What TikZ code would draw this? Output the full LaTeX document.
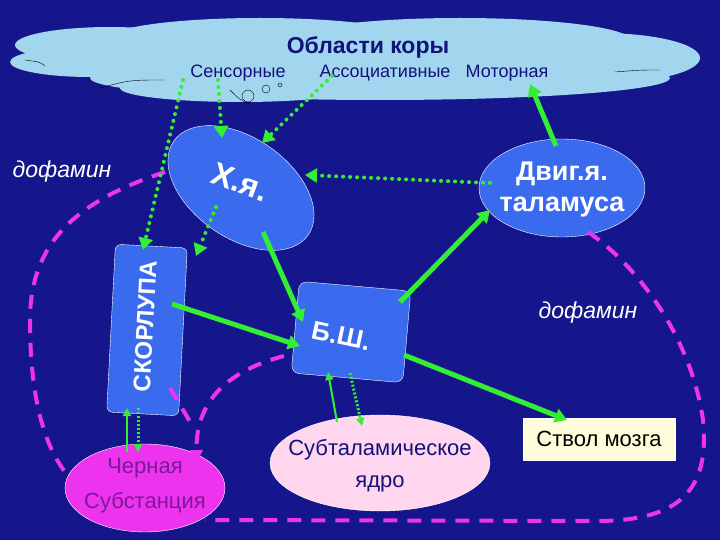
\documentclass[tikz,border=0pt]{standalone}
\usepackage{fontspec}
\setmainfont{Liberation Sans}
\usetikzlibrary{shapes.geometric,arrows.meta}
\definecolor{bg}{HTML}{15158C}
\definecolor{cloud}{HTML}{A2D6EE}
\definecolor{nodeblue}{HTML}{3A6AEE}
\definecolor{grn}{HTML}{33EE33}
\definecolor{mag}{HTML}{EE33EE}
\definecolor{navy}{HTML}{12127A}
\definecolor{purp}{HTML}{7A1A9A}
\definecolor{pinkfill}{HTML}{FFD6EE}
\begin{document}
\begin{tikzpicture}[x=1pt,y=-1pt,
  solidarrow/.style={grn,line width=5pt,-{Triangle[length=12pt,width=14pt]}},
  dotarrow/.style={grn,line width=4pt,dash pattern=on 0pt off 7pt,line cap=round,-{Triangle[length=12pt,width=14pt]}},
  thinarrow/.style={grn,line width=2pt,-{Triangle[length=8pt,width=8pt]}},
  thindot/.style={grn,line width=3pt,dash pattern=on 2pt off 2pt,-{Triangle[length=8pt,width=8pt]}},
  magdash/.style={mag,line width=4pt,dash pattern=on 14pt off 10pt},
  blueshape/.style={draw=white,fill=nodeblue},
  whitetxt/.style={text=white,font=\bfseries\fontsize{#1}{#1}\selectfont},
  lbl/.style={text=navy,font=\fontsize{18}{20}\selectfont}]
\fill[bg] (0,0) rectangle (720,540);
\useasboundingbox (0,0) rectangle (720,540);
% cloud
\fill[cloud] (110,45) ellipse[x radius=95,y radius=18];
\fill[cloud] (260,38) ellipse[x radius=150,y radius=20];
\fill[cloud] (460,40) ellipse[x radius=170,y radius=22];
\fill[cloud] (600,58) ellipse[x radius=100,y radius=25];
\fill[cloud] (90,62) ellipse[x radius=80,y radius=15];
\fill[cloud] (380,78) ellipse[x radius=290,y radius=22];
\fill[cloud] (300,60) ellipse[x radius=260,y radius=25];
\fill[cloud] (240,88) ellipse[x radius=120,y radius=14];
\draw[black,thin] (25,60) .. controls (40,62) .. (45,66);
\draw[black,thin] (100,88) .. controls (130,80) .. (165,80);
\draw[black,thin] (615,72) .. controls (640,70) .. (660,70);
\draw[black,thin] (230,90) .. controls (240,100) .. (250,104);
\draw[black,thin] (248,96) circle[radius=6];
\draw[black,thin] (266,89) circle[radius=4];
\draw[black,thin] (280,85) circle[radius=2];
\node[text=navy,font=\bfseries\fontsize{23}{25}\selectfont] (title) at (368,47) {Области коры};
\node[lbl] (sens) at (238,73) {Сенсорные};
\node[lbl] (assoc) at (385,73) {Ассоциативные};
\node[lbl] (motor) at (507,73) {Моторная};
% shapes
\filldraw[blueshape,rotate around={-35:(241,188)}] (241,188) ellipse[x radius=82,y radius=50];
\filldraw[blueshape] (562,188) ellipse[x radius=83,y radius=49];
\filldraw[blueshape,rotate around={-3:(147,330)},rounded corners=6pt] (111,246) rectangle (183,414);
\filldraw[blueshape,rotate around={-5:(351,332)},rounded corners=8pt] (295,286) rectangle (407,378);
\filldraw[draw=white,fill=mag] (145,488) ellipse[x radius=80,y radius=44];
\filldraw[draw=white,fill=pinkfill] (380,463) ellipse[x radius=110,y radius=48];
% texts
\node[whitetxt=32,rotate=-20] (xya) at (240,182) {Х.я.};
\node[align=center,text=white,font=\bfseries\fontsize{27}{31}\selectfont] (dvig) at (562,190) {Двиг.я.\\таламуса};
\node[whitetxt=24,rotate=87] (skor) at (145,326) {СКОРЛУПА};
\node[whitetxt=26,rotate=-12] (bsh) at (341,336) {Б.Ш.};
\node[align=center,text=purp,font=\fontsize{22}{35}\selectfont] (cher) at (145,486) {Черная\\Субстанция};
\node[align=center,text=navy,font=\fontsize{22}{32}\selectfont] (subt) at (380,466) {Субталамическое\\ядро};
\node[draw=white,fill=yellow!15!white,minimum width=152,minimum height=42,text=black,font=\fontsize{22}{24}\selectfont] (stvol) at (599,439) {Ствол мозга};
\node[text=white,font=\itshape\fontsize{23}{25}\selectfont] (dof1) at (62,172) {дофамин};
\node[text=white,font=\itshape\fontsize{23}{25}\selectfont] (dof2) at (588,313) {дофамин};
% magenta dashed loops
\draw[magdash] (165,172) .. controls (80,200) and (30,240) .. (30,320) .. controls (30,400) and (45,450) .. (70,478);
\draw[magdash] (588,232) .. controls (630,260) and (690,330) .. (703,420) .. controls (710,490) and (680,520) .. (600,521) -- (205,520);
\draw[magdash,-{Triangle[length=12pt,width=12pt]}] (284,356) .. controls (230,370) and (195,400) .. (197,462);
\draw[magdash] (170,388) -- (192,425);
% green arrows
\coordinate (s1) at (183,80);
\coordinate (s2) at (218,80);
\coordinate (a1) at (332,76);
\coordinate (m1) at (530,84);
\draw[dotarrow] (s1) -- (143,250);
\draw[dotarrow] (s2) -- (222,138);
\draw[dotarrow] (a1) -- (262,143);
\draw[solidarrow] (556,146) -- (m1);
\draw[dotarrow] (490,183) -- (305,175);
\draw[dotarrow] (216,207) -- (196,256);
\draw[solidarrow] (263,232) -- (303,322);
\draw[solidarrow] (400,302) -- (490,210);
\draw[solidarrow] (172,304) -- (300,346);
\draw[solidarrow] (404,355) -- (567,420);
\draw[thinarrow] (337,422) -- (328,372);
\draw[thindot] (350,373) -- (362,426);
\draw[thinarrow] (127,452) -- (127,408);
\draw[thindot] (138,408) -- (138,452);
\end{tikzpicture}
\end{document}
